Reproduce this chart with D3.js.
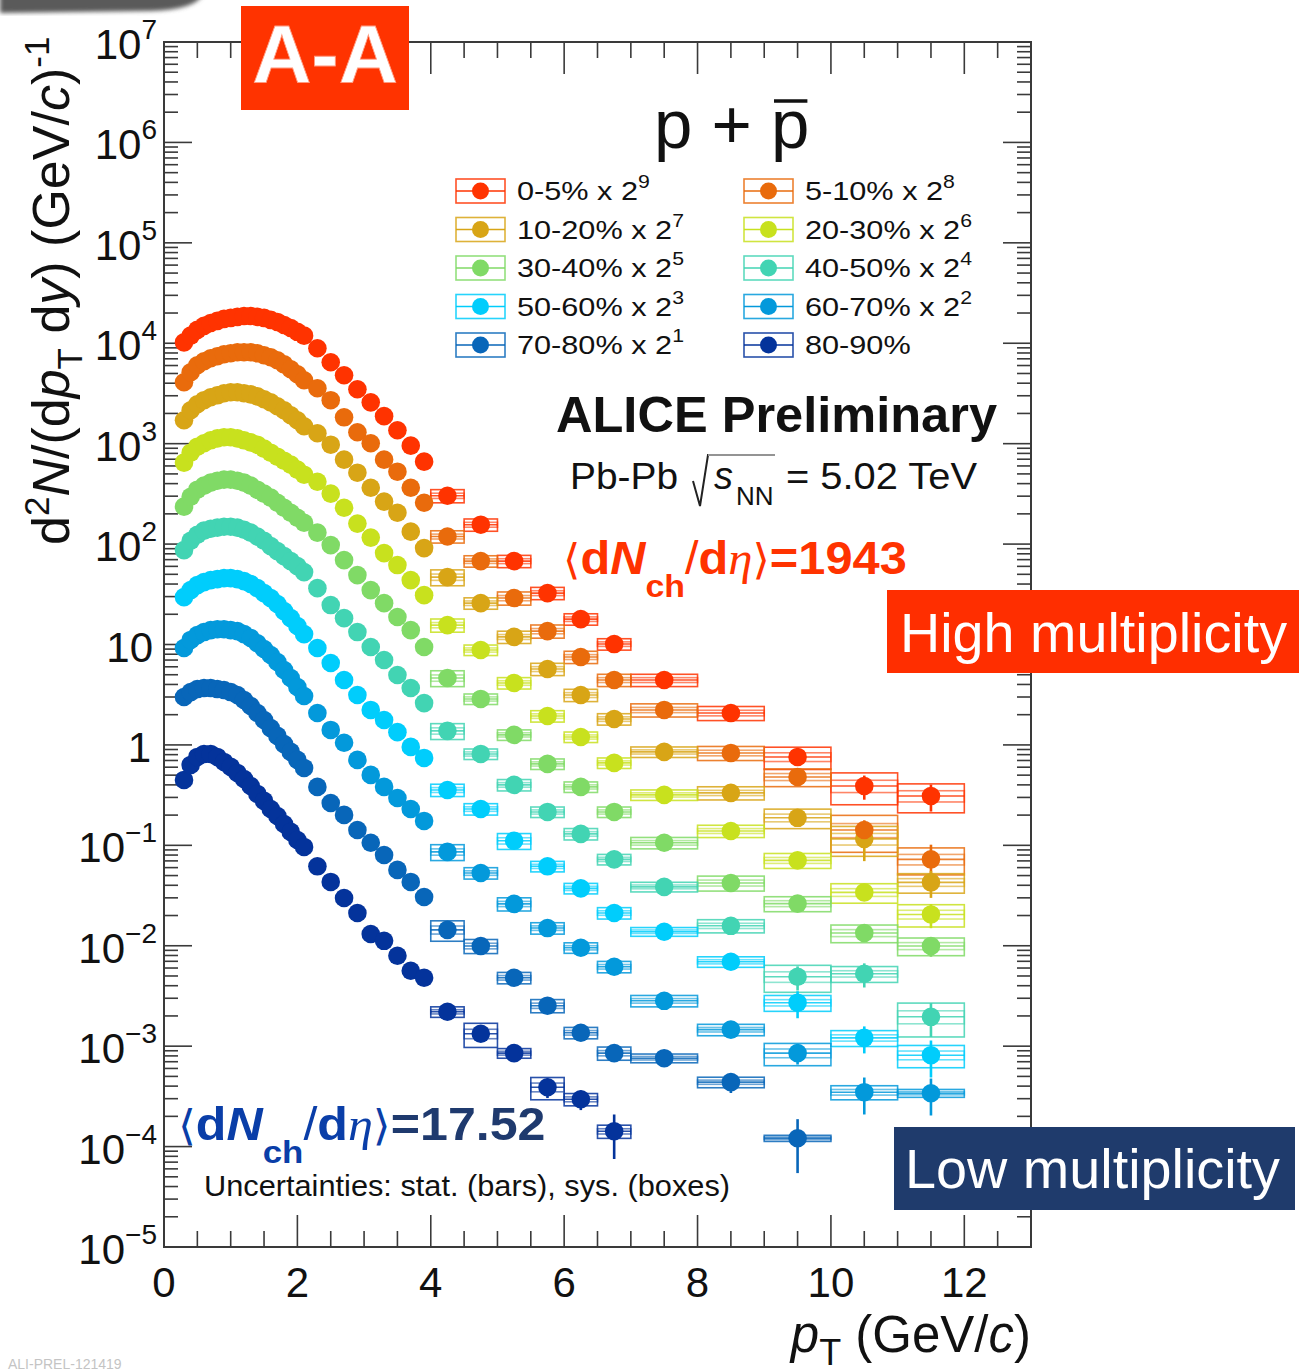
<!DOCTYPE html>
<html><head><meta charset="utf-8">
<script src="https://cdn.jsdelivr.net/npm/d3@7"></script>
<style>
body{margin:0;background:#fff}
svg{display:block}
text{font-family:"Liberation Sans",Arial,Helvetica,sans-serif}
</style>
</head><body>
<svg id="c" width="1299" height="1372"></svg>
<script>
// ---------------- DATA ----------------
const ptCenters = [0.3,0.4,0.5,0.6,0.7,0.8,0.9,1.0,1.1,1.2,1.3,1.4,1.5,1.6,1.7,1.8,1.9,2.0,2.1,
  2.3,2.5,2.7,2.9,3.1,3.3,3.5,3.7,3.9,
  4.25,4.75,5.25,5.75,6.25,6.75,7.5,8.5,9.5,10.5,11.5];
const ptBinWidths = [0.1,0.1,0.1,0.1,0.1,0.1,0.1,0.1,0.1,0.1,0.1,0.1,0.1,0.1,0.1,0.1,0.1,0.1,0.1,
  0.2,0.2,0.2,0.2,0.2,0.2,0.2,0.2,0.2,
  0.5,0.5,0.5,0.5,0.5,0.5,1,1,1,1,1];
const firstHighPtIndex = 28;

const centralityClasses = ["0-5%","5-10%","10-20%","20-30%","30-40%","40-50%","50-60%","60-70%","70-80%","80-90%"];
const scaleExponents = [9,8,7,6,5,4,3,2,1,null];

// plotted (scaled) yields d2N/(dpT dy)
const yield0_5 = [1.02e4,1.19e4,1.36e4,1.49e4,1.59e4,1.67e4,1.75e4,1.79e4,1.83e4,1.87e4,1.87e4,1.83e4,1.79e4,1.71e4,1.63e4,1.52e4,1.42e4,1.30e4,1.19e4,
  8920,6470,4800,3480,2580,1880,1360,955,662,
  303,156,67.7,32.5,17.9,10.1,4.43,2.08,0.759,0.390,0.310];
const yield5_10 = [4090,5140,6040,6620,7090,7420,7770,7950,8130,8130,8130,7950,7590,7250,6770,6170,5510,4910,4280,
  3560,2710,1830,1300,1010,693,526,364,258,
  119,67.7,29.0,13.6,7.51,4.43,2.23,0.832,0.480,0.142,0.0725];
const yield10_20 = [1710,2150,2470,2710,2900,3030,3180,3250,3250,3180,3100,2960,2770,2580,2360,2150,1920,1710,1490,
  1270,977,693,514,364,265,205,133,91.2,
  46.9,25.8,11.9,5.70,3.14,1.81,0.852,0.333,0.188,0.116,0.0428];
const yield20_30 = [647,813,933,1010,1080,1130,1160,1160,1130,1080,1030,977,892,813,742,677,618,551,491,
  418,318,230,160,116,81.3,61.8,43.8,31.0,
  15.6,8.82,4.14,1.94,1.20,0.662,0.318,0.139,0.0709,0.0340,0.0205];
const yield30_40 = [236,296,348,382,409,428,438,438,428,409,382,348,318,290,258,230,205,183,163,
  130,97.7,69.3,49.1,34.8,25.8,18.8,13.9,9.44,
  4.64,2.87,1.26,0.647,0.382,0.215,0.106,0.0422,0.0263,0.0134,0.00995];
const yield40_50 = [87.1,108,124,136,142,146,149,149,146,139,130,119,108,95.5,85.2,75.9,67.7,60.4,52.6,
  36.4,24.7,18.3,13.3,9.44,7.01,4.97,3.69,2.61,
  1.38,0.813,0.400,0.215,0.130,0.0725,0.0386,0.0158,0.00491,0.00526,0.00196];
const yield50_60 = [29.6,34.8,39.0,41.8,43.8,44.8,45.8,45.8,44.8,42.8,40.0,36.4,32.5,29.0,25.3,21.5,18.3,15.3,12.7,
  9.23,6.54,4.43,3.14,2.23,1.77,1.34,0.955,0.742,
  0.356,0.230,0.111,0.0618,0.0373,0.0212,0.0138,0.00693,0.00271,0.00121,0.000813];
const yield60_70 = [9.23,11.1,12.4,13.3,13.9,14.2,14.2,13.9,13.6,12.7,11.6,10.3,9.01,7.86,6.69,5.57,4.64,3.77,3.07,
  2.08,1.41,1.05,0.709,0.503,0.382,0.296,0.230,0.175,
  0.0860,0.0530,0.0261,0.0150,0.00955,0.00618,0.00283,0.00146,0.000852,0.000348,0.000340];
const yield70_80 = [3.00,3.36,3.60,3.69,3.69,3.60,3.52,3.36,3.14,2.80,2.44,2.08,1.77,1.47,1.23,1.02,0.852,0.709,0.590,
  0.382,0.264,0.201,0.142,0.106,0.0802,0.0569,0.0432,0.0306,
  0.0144,0.00995,0.00480,0.00253,0.00136,0.000852,0.000759,0.000438,0.000121];
const yield80_90 = [0.448,0.632,0.759,0.813,0.813,0.759,0.677,0.604,0.526,0.458,0.390,0.325,0.277,0.230,0.196,0.163,0.136,0.113,0.0964,
  0.0618,0.0432,0.0299,0.0212,0.0131,0.0112,0.00795,0.00564,0.00480,
  0.00220,0.00133,0.000852,0.000390,0.000296,0.000142];

// relative systematic uncertainties (boxes), pT >= 4 GeV/c
const sys0_5   = [0.15,0.14,0.14,0.14,0.13,0.13,0.14,0.16,0.25,0.35,0.32];
const sys5_10  = [0.14,0.13,0.15,0.15,0.14,0.14,0.15,0.16,0.20,0.40,0.30];
const sys10_20 = [0.18,0.13,0.14,0.14,0.14,0.13,0.12,0.15,0.22,0.33,0.22];
const sys20_30 = [0.15,0.12,0.13,0.13,0.12,0.12,0.12,0.14,0.17,0.22,0.25];
const sys30_40 = [0.18,0.12,0.12,0.12,0.12,0.12,0.13,0.17,0.17,0.20,0.20];
const sys40_50 = [0.18,0.12,0.13,0.12,0.13,0.12,0.11,0.15,0.30,0.18,0.37];
const sys50_60 = [0.14,0.13,0.18,0.12,0.12,0.13,0.10,0.12,0.18,0.18,0.25];
const sys60_70 = [0.18,0.13,0.15,0.13,0.12,0.13,0.13,0.13,0.25,0.16,0.09];
const sys70_80 = [0.23,0.16,0.13,0.15,0.13,0.15,0.10,0.12,0.07];
const sys80_90 = [0.12,0.27,0.11,0.25,0.14,0.15];

// relative statistical uncertainties (bars), pT >= 4 GeV/c
const stat0_5   = [0.02,0.03,0.03,0.04,0.05,0.06,0.06,0.08,0.13,0.27,0.30];
const stat5_10  = [0.03,0.03,0.04,0.05,0.06,0.07,0.08,0.10,0.15,0.25,0.40];
const stat10_20 = [0.03,0.03,0.04,0.05,0.06,0.07,0.08,0.10,0.14,0.40,0.30];
const stat20_30 = [0.03,0.04,0.04,0.05,0.06,0.07,0.08,0.10,0.15,0.18,0.27];
const stat30_40 = [0.03,0.04,0.05,0.05,0.06,0.07,0.09,0.10,0.14,0.15,0.22];
const stat40_50 = [0.04,0.04,0.05,0.06,0.07,0.08,0.09,0.12,0.27,0.27,0.37];
const stat50_60 = [0.04,0.05,0.05,0.06,0.08,0.09,0.10,0.13,0.30,0.30,0.40];
const stat60_70 = [0.05,0.05,0.06,0.07,0.08,0.10,0.12,0.15,0.23,0.40,0.40];
const stat70_80 = [0.06,0.06,0.07,0.08,0.10,0.12,0.13,0.22,0.55];
const stat80_90 = [0.08,0.10,0.12,0.22,0.22,0.47];

const xTickLabels = [0,2,4,6,8,10,12];
const yDecades = [-5,-4,-3,-2,-1,0,1,2,3,4,5,6,7];

// ---------------- STYLE ----------------
const seriesColors = ["#ff3300","#e96b0c","#d8a516","#c8e11e","#80da66","#42d4b3","#00cdfc","#0399db","#0866b9","#04339b"];

const yields = [yield0_5,yield5_10,yield10_20,yield20_30,yield30_40,yield40_50,yield50_60,yield60_70,yield70_80,yield80_90];
const sysUnc = [sys0_5,sys5_10,sys10_20,sys20_30,sys30_40,sys40_50,sys50_60,sys60_70,sys70_80,sys80_90];
const statUnc = [stat0_5,stat5_10,stat10_20,stat20_30,stat30_40,stat40_50,stat50_60,stat60_70,stat70_80,stat80_90];

const series = centralityClasses.map((label,i)=>({
  label, exp: scaleExponents[i], color: seriesColors[i],
  points: yields[i].map((v,j)=>({
    pt: ptCenters[j], w: ptBinWidths[j], v,
    sys: j>=firstHighPtIndex ? sysUnc[i][j-firstHighPtIndex] : 0,
    stat: j>=firstHighPtIndex ? statUnc[i][j-firstHighPtIndex] : 0
  }))
}));

// ---------------- DRAW ----------------
const svg = d3.select("#c");
const X0=164, X1=1031, Y0=42, Y1=1247;
const x = d3.scaleLinear().domain([0,13]).range([X0,X1]);
const y = d3.scaleLog().domain([1e-5,1e7]).range([Y1,Y0]);

// top-left grey slide shadow
const defs = svg.append("defs");
defs.append("filter").attr("id","blur").append("feGaussianBlur").attr("stdDeviation",2.2);
svg.append("path").attr("d","M0,-10 L205,-10 Q200,10 150,11 L0,13 Z").attr("fill","#5a5a5a").attr("filter","url(#blur)");

// frame
const axisColor="#3a3a3a";
svg.append("rect").attr("x",X0).attr("y",Y0).attr("width",X1-X0).attr("height",Y1-Y0)
  .attr("fill","none").attr("stroke",axisColor).attr("stroke-width",2);

// y ticks (left and right)
const yTickG = svg.append("g").attr("stroke",axisColor).attr("stroke-width",1.6);
yDecades.forEach(k=>{
  const yy = y(Math.pow(10,k));
  yTickG.append("line").attr("x1",X0).attr("x2",X0+28).attr("y1",yy).attr("y2",yy);
  yTickG.append("line").attr("x1",X1).attr("x2",X1-28).attr("y1",yy).attr("y2",yy);
  if (k<7) for (let m=2;m<=9;m++){
    const ym = y(m*Math.pow(10,k));
    yTickG.append("line").attr("x1",X0).attr("x2",X0+14).attr("y1",ym).attr("y2",ym);
    yTickG.append("line").attr("x1",X1).attr("x2",X1-14).attr("y1",ym).attr("y2",ym);
  }
});
// x ticks (bottom and top)
const xTickG = svg.append("g").attr("stroke",axisColor).attr("stroke-width",1.6);
d3.range(0,13.01,0.5).forEach(t=>{
  const major = Math.abs(t/2-Math.round(t/2))<1e-6;
  const len = major?32:16;
  xTickG.append("line").attr("x1",x(t)).attr("x2",x(t)).attr("y1",Y1).attr("y2",Y1-len);
  xTickG.append("line").attr("x1",x(t)).attr("x2",x(t)).attr("y1",Y0).attr("y2",Y0+len);
});

// tick labels
xTickLabels.forEach(t=>{
  svg.append("text").attr("x",x(t)).attr("y",1297).attr("text-anchor","middle")
    .attr("font-size",42).attr("fill","#111").text(t);
});
yDecades.forEach(k=>{
  const yy = y(Math.pow(10,k));
  const t = svg.append("text").attr("y",yy+17).attr("text-anchor","end").attr("font-size",42).attr("fill","#111");
  if (k===0){ t.attr("x",151).text("1"); }
  else if (k===1){ t.attr("x",153).text("10"); }
  else {
    t.attr("x",157);
    t.append("tspan").text("10");
    t.append("tspan").attr("dy",-20).attr("font-size",28).text(k<0 ? "\u2212"+(-k) : String(k));
  }
});

// axis titles
const yt = svg.append("text").attr("transform","translate(69,545) rotate(-90)").attr("font-size",52).attr("fill","#111");
yt.append("tspan").text("d");
yt.append("tspan").attr("font-size",35).attr("dy",-20).text("2");
yt.append("tspan").attr("dy",20).attr("font-style","italic").text("N");
yt.append("tspan").text("/(d");
yt.append("tspan").attr("font-style","italic").text("p");
yt.append("tspan").attr("font-size",35).attr("dy",13).text("T");
yt.append("tspan").attr("dy",-13).text(" d");
yt.append("tspan").attr("font-style","italic").text("y");
yt.append("tspan").text(") (GeV/");
yt.append("tspan").attr("font-style","italic").text("c");
yt.append("tspan").text(")");
yt.append("tspan").attr("font-size",35).attr("dy",-20).text("-1");

const xt = svg.append("text").attr("x",X1).attr("y",1352).attr("text-anchor","end").attr("font-size",51).attr("fill","#111");
xt.append("tspan").attr("font-style","italic").text("p");
xt.append("tspan").attr("font-size",36).attr("dy",13).text("T");
xt.append("tspan").attr("dy",-13).text(" (GeV/");
xt.append("tspan").attr("font-style","italic").text("c");
xt.append("tspan").text(")");

// systematic boxes
const boxLayer = svg.append("g").attr("fill","none");
series.forEach(s=>{
  const hp = s.points.filter(d=>d.sys>0);
  const g = boxLayer.append("g").attr("stroke",s.color).attr("stroke-width",1.6).attr("stroke-opacity",0.85);
  g.selectAll("rect.outer").data(hp).join("rect").attr("class","outer")
    .attr("x",d=>x(d.pt-d.w/2)).attr("width",d=>x(d.pt+d.w/2)-x(d.pt-d.w/2))
    .attr("y",d=>y(d.v*(1+d.sys))).attr("height",d=>y(d.v*(1-d.sys))-y(d.v*(1+d.sys)));
  g.selectAll("rect.inner").data(hp).join("rect").attr("class","inner").attr("stroke-opacity",0.6)
    .attr("x",d=>x(d.pt-d.w/2)).attr("width",d=>x(d.pt+d.w/2)-x(d.pt-d.w/2))
    .attr("y",d=>y(d.v*(1+0.4*d.sys))).attr("height",d=>y(d.v*(1-0.4*d.sys))-y(d.v*(1+0.4*d.sys)));
  g.selectAll("line.xerr").data(hp).join("line").attr("class","xerr")
    .attr("x1",d=>x(d.pt-d.w/2)).attr("x2",d=>x(d.pt+d.w/2))
    .attr("y1",d=>y(d.v)).attr("y2",d=>y(d.v));
});
// statistical bars
const statLayer = svg.append("g");
series.forEach(s=>{
  const hp = s.points.filter(d=>d.stat>0);
  statLayer.append("g").attr("stroke",s.color).attr("stroke-width",2.6)
    .selectAll("line").data(hp).join("line")
    .attr("x1",d=>x(d.pt)).attr("x2",d=>x(d.pt))
    .attr("y1",d=>y(d.v*(1+d.stat))).attr("y2",d=>y(d.v*(1-d.stat)));
});
// markers
const dotLayer = svg.append("g");
series.slice().reverse().forEach(s=>{
  dotLayer.append("g").attr("fill",s.color)
    .selectAll("circle").data(s.points).join("circle")
    .attr("cx",d=>x(d.pt)).attr("cy",d=>y(d.v)).attr("r",9.3);
});

// title p + pbar
const title = svg.append("text").attr("x",654).attr("y",148).attr("font-size",69).attr("fill","#111").text("p + p");
{
  const e = title.node().getExtentOfChar(4);
  svg.append("line").attr("x1",e.x+3).attr("x2",e.x+e.width-2).attr("y1",101).attr("y2",101)
    .attr("stroke","#111").attr("stroke-width",3.5);
}

// legend
series.forEach((s,i)=>{
  const col = i%2, row = Math.floor(i/2);
  const bx = col===0 ? 456 : 744;
  const cy = 191 + row*38.5;
  const g = svg.append("g");
  g.append("rect").attr("x",bx).attr("y",cy-12).attr("width",49).attr("height",24)
    .attr("fill","none").attr("stroke",s.color).attr("stroke-width",1.6).attr("stroke-opacity",0.85);
  g.append("line").attr("x1",bx).attr("x2",bx+49).attr("y1",cy).attr("y2",cy)
    .attr("stroke",s.color).attr("stroke-width",1.6);
  g.append("circle").attr("cx",bx+24.5).attr("cy",cy).attr("r",8.5).attr("fill",s.color);
  const t = g.append("text").attr("transform",`translate(${bx+61},${cy+9}) scale(1.18,1)`)
    .attr("font-size",26).attr("fill","#111");
  if (s.exp!==null){
    t.append("tspan").text(s.label+" x 2");
    t.append("tspan").attr("dy",-12).attr("font-size",18).text(s.exp);
  } else t.text(s.label);
});

// ALICE Preliminary
svg.append("text").attr("x",556).attr("y",432).attr("font-size",50).attr("font-weight","bold").attr("fill","#111")
  .attr("textLength",441).attr("lengthAdjust","spacingAndGlyphs").text("ALICE Preliminary");
// Pb-Pb sqrt(sNN)
svg.append("text").attr("x",570).attr("y",489).attr("font-size",37).attr("fill","#111")
  .attr("textLength",108).attr("lengthAdjust","spacingAndGlyphs").text("Pb-Pb");
svg.append("path").attr("d","M693,481 L700,506 L708,455 L775,455").attr("fill","none").attr("stroke","#222").attr("stroke-width",2);
svg.append("path").attr("d","M708,455 L775,455").attr("fill","none").attr("stroke","#bbb").attr("stroke-width",1.5);
svg.append("text").attr("x",714).attr("y",489).attr("font-size",38).attr("font-style","italic").attr("fill","#111").text("s");
svg.append("text").attr("x",736).attr("y",505).attr("font-size",26).attr("fill","#111").text("NN");
svg.append("text").attr("x",786).attr("y",489).attr("font-size",37).attr("fill","#111")
  .attr("textLength",191).attr("lengthAdjust","spacingAndGlyphs").text("= 5.02 TeV");

// <dNch/deta> annotations
function dndeta(x0, y0, col, valCol, value, sx){
  const t = svg.append("text").attr("transform",`translate(${x0},${y0}) scale(${sx},1)`).attr("font-size",46).attr("fill",col);
  t.append("tspan").attr("font-family","DejaVu Sans").attr("font-weight","normal").attr("font-size",42).text("\u27E8");
  t.append("tspan").attr("font-weight","bold").text("d");
  t.append("tspan").attr("font-weight","bold").attr("font-style","italic").text("N");
  t.append("tspan").attr("font-weight","bold").attr("font-size",32).attr("dy",23).text("ch");
  t.append("tspan").attr("dy",-23).text("/");
  t.append("tspan").attr("font-weight","bold").text("d");
  t.append("tspan").attr("font-family","Liberation Serif").attr("font-style","italic").text("\u03B7");
  t.append("tspan").attr("font-family","DejaVu Sans").attr("font-size",42).text("\u27E9");
  t.append("tspan").attr("font-weight","bold").attr("fill",valCol).text("="+value);
}
dndeta(563,574,"#ff3300","#ff3300","1943",1.06);
dndeta(178,1140,"#0a3ea8","#1f3a6e","17.52",1.09);

svg.append("text").attr("x",204).attr("y",1196).attr("font-size",29).attr("fill","#111")
  .attr("textLength",526).attr("lengthAdjust","spacingAndGlyphs")
  .text("Uncertainties: stat. (bars), sys. (boxes)");

// slide banners
svg.append("rect").attr("x",241).attr("y",6).attr("width",168).attr("height",104).attr("fill","#ff3300");
svg.append("text").attr("x",325).attr("y",82).attr("text-anchor","middle").attr("font-size",82)
  .attr("font-weight","bold").attr("fill","#fff").attr("stroke","#ff9b80").attr("stroke-width",0.8).text("A-A");

svg.append("rect").attr("x",887).attr("y",590).attr("width",412).attr("height",83).attr("fill","#ff2e00");
svg.append("text").attr("x",900).attr("y",652).attr("font-size",55).attr("fill","#fff")
  .attr("textLength",387).attr("lengthAdjust","spacingAndGlyphs").text("High multiplicity");

svg.append("rect").attr("x",894).attr("y",1127).attr("width",401).attr("height",83).attr("fill","#1f3b6c");
svg.append("text").attr("x",905).attr("y",1188).attr("font-size",55).attr("fill","#fff")
  .attr("textLength",375).attr("lengthAdjust","spacingAndGlyphs").text("Low multiplicity");

// watermark
svg.append("text").attr("x",8).attr("y",1369).attr("font-size",14).attr("font-family","Liberation Mono")
  .attr("fill","#c4c4c4").text("ALI-PREL-121419");
</script>
</body></html>
